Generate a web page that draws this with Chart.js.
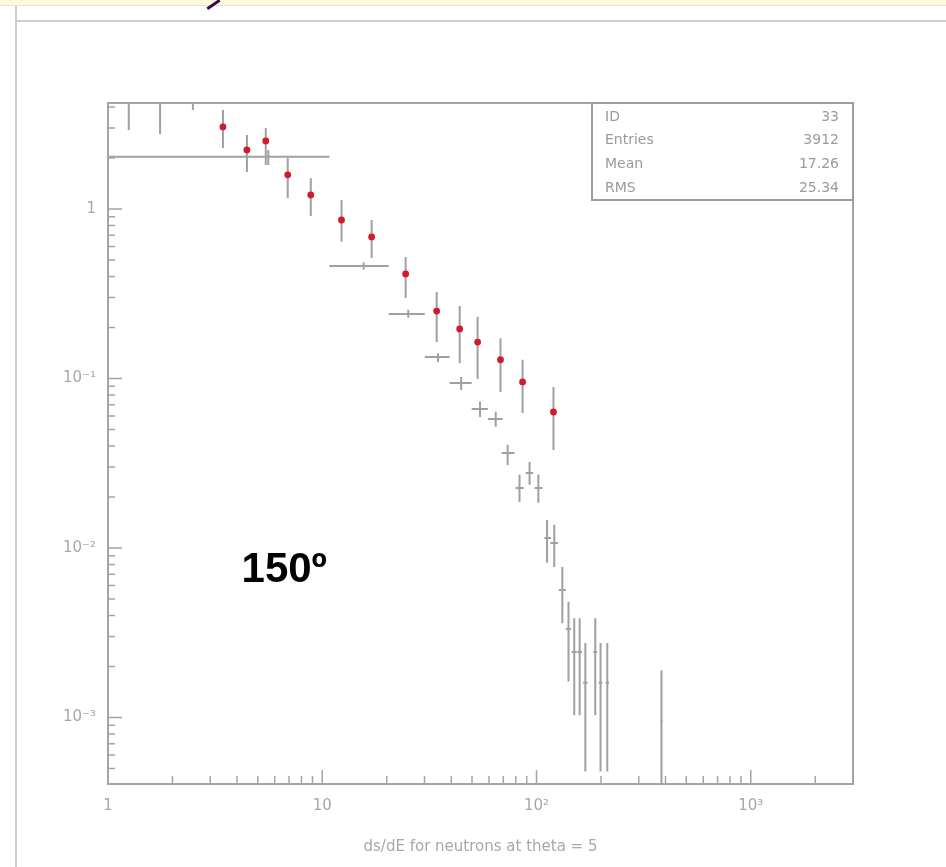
<!DOCTYPE html>
<html lang="en">

<head>
    <meta charset="UTF-8">
    <meta name="viewport" content="width=device-width, initial-scale=1.0">
    <title>ds/dE for neutrons</title>
    <style>
        body { margin: 0; background: #fff; }
        #wrap { position: relative; width: 946px; height: 867px; overflow: hidden; }
        .band { position: absolute; left: 0; top: 0; width: 946px; height: 5px; background: #fcf9dd; border-bottom: 1px solid #e4e2d4; }
        .hline { position: absolute; left: 16px; top: 20px; width: 930px; height: 2px; background: #cdcdcd; }
        .vline { position: absolute; left: 15px; top: 6px; width: 2px; height: 861px; background: #cdcdcd; }
        .stroke { position: absolute; left: 212px; top: -3px; width: 3px; height: 15px; background: #3c0d4a; transform: rotate(56deg); }
        canvas { position: absolute; left: 0; top: 0; }
    </style>
</head>

<body>
    <div id="wrap">
        <div class="band"></div>
        <div class="stroke"></div>
        <div class="hline"></div>
        <div class="vline"></div>
        <canvas id="spectrum" width="946" height="867"></canvas>
    </div>
</body>
<script src="https://cdn.jsdelivr.net/npm/chart.js"></script>
<script>

    // axis labels
    const xTickValues = [1, 10, 100, 1000];
    const xTickLabels = ['1', '10', '10²', '10³'];
    const yTickValues = [0.001, 0.01, 0.1, 1];
    const yTickLabels = ['10⁻³', '10⁻²', '10⁻¹', '1'];

    // red points: measured spectrum with vertical errors
    const redX = [1.25, 1.75, 2.49, 3.44, 4.45, 5.45, 6.9, 8.84, 12.3, 17.0, 24.5, 34.2, 43.8, 53.1, 67.9, 86.1, 120];
    const redY = [5.6, 5.3, 5.0, 3.05, 2.23, 2.52, 1.59, 1.21, 0.861, 0.684, 0.414, 0.25, 0.196, 0.164, 0.129, 0.0954, 0.0634];
    const redLo = [2.92, 2.77, 3.84, 2.29, 1.65, 1.82, 1.16, 0.91, 0.64, 0.514, 0.298, 0.164, 0.123, 0.0993, 0.0832, 0.0626, 0.0379];
    const redHi = [9.0, 8.5, 6.5, 3.84, 2.73, 3.0, 2.0, 1.52, 1.13, 0.86, 0.521, 0.324, 0.268, 0.231, 0.173, 0.129, 0.0891];

    // grey histogram: bin edges, contents and errors
    const greyXLo = [0.9, 10.8, 20.4, 30.1, 39.3, 49.8, 59.3, 68.7, 79.9, 89, 98, 108.8, 116, 127, 137, 146, 155, 165, 184, 195, 210, 378];
    const greyXHi = [10.8, 20.4, 30.1, 39.3, 49.8, 59.3, 69.5, 78.9, 87.2, 96.5, 106.5, 117, 126, 137, 145, 154, 163, 173, 192, 203, 218, 388];
    const greyX = [5.6, 15.6, 25.2, 34.7, 44.5, 54.5, 64.5, 73.3, 83.3, 92.8, 102, 112, 121, 132, 141, 150, 159, 169, 188, 199, 214, 383];
    const greyY = [2.03, 0.461, 0.240, 0.134, 0.094, 0.066, 0.0577, 0.0363, 0.0226, 0.0277, 0.0226, 0.01145, 0.0107, 0.00565, 0.00333, 0.00243, 0.00243, 0.0016, 0.00243, 0.0016, 0.0016, 0.00095];
    const greyLo = [1.82, 0.44, 0.228, 0.125, 0.0856, 0.0593, 0.0519, 0.0309, 0.0187, 0.0236, 0.0185, 0.00819, 0.00773, 0.0036, 0.00163, 0.00103, 0.00103, 0.00048, 0.00103, 0.00048, 0.00048, 0.00001];
    const greyHi = [2.23, 0.485, 0.254, 0.141, 0.102, 0.0731, 0.0636, 0.0406, 0.0271, 0.0321, 0.0271, 0.0146, 0.0137, 0.00772, 0.00481, 0.00385, 0.00385, 0.00275, 0.00385, 0.00275, 0.00275, 0.0019];

    // stats box
    const statNames = ['ID', 'Entries', 'Mean', 'RMS'];
    const statValues = ['33', '3912', '17.26', '25.34'];

    const axisGrey = '#a4a4a4';
    const textGrey = '#a8a8a8';
    const rootFont = 'DejaVu Sans';

    const errorBars = {
        id: 'errorBars',
        beforeDatasetsDraw(chart) {
            const { ctx, chartArea: a, scales: { x, y } } = chart;
            ctx.save();
            ctx.beginPath();
            ctx.rect(a.left, a.top, a.right - a.left, a.bottom - a.top);
            ctx.clip();
            ctx.strokeStyle = '#a0a0a0';
            ctx.lineWidth = 2;
            ctx.beginPath();
            greyX.forEach((v, i) => {
                const px = x.getPixelForValue(v);
                const py = y.getPixelForValue(greyY[i]);
                ctx.moveTo(x.getPixelForValue(greyXLo[i]), py);
                ctx.lineTo(x.getPixelForValue(greyXHi[i]), py);
                ctx.moveTo(px, y.getPixelForValue(greyLo[i]));
                ctx.lineTo(px, y.getPixelForValue(greyHi[i]));
            });
            redX.forEach((v, i) => {
                const px = x.getPixelForValue(v);
                ctx.moveTo(px, y.getPixelForValue(redLo[i]));
                ctx.lineTo(px, y.getPixelForValue(redHi[i]));
            });
            ctx.stroke();
            ctx.restore();
        }
    };

    // frame, inward log ticks, stats box and angle label
    const rootFrame = {
        id: 'rootFrame',
        afterDraw(chart) {
            const { ctx, chartArea: a, scales: { x, y } } = chart;
            ctx.save();
            ctx.strokeStyle = axisGrey;
            ctx.lineWidth = 2;
            ctx.strokeRect(a.left, a.top, a.right - a.left, a.bottom - a.top);

            ctx.lineWidth = 1.5;
            ctx.beginPath();
            for (let d = 0; d <= 3; d++) {
                for (let k = 1; k <= 9; k++) {
                    const v = k * Math.pow(10, d);
                    if (v < x.min || v > x.max) continue;
                    const px = x.getPixelForValue(v);
                    ctx.moveTo(px, a.bottom);
                    ctx.lineTo(px, a.bottom - (k === 1 ? 14 : 8));
                }
            }
            for (let d = -4; d <= 0; d++) {
                for (let k = 1; k <= 9; k++) {
                    const v = k * Math.pow(10, d);
                    if (v < y.min || v > y.max) continue;
                    const py = y.getPixelForValue(v);
                    ctx.moveTo(a.left, py);
                    ctx.lineTo(a.left + (k === 1 ? 14 : 7), py);
                }
            }
            ctx.stroke();

            // stats box in the top right corner
            const bw = 261, bh = 97;
            const bx = a.right - bw, by = a.top;
            ctx.fillStyle = '#fff';
            ctx.fillRect(bx, by, bw, bh);
            ctx.lineWidth = 2;
            ctx.strokeStyle = '#9c9c9c';
            ctx.strokeRect(bx, by, bw, bh);
            ctx.font = '14px "' + rootFont + '"';
            ctx.fillStyle = '#9a9a9a';
            ctx.textBaseline = 'middle';
            statNames.forEach((n, i) => {
                const ty = by + 14 + i * 23.7;
                ctx.textAlign = 'left';
                ctx.fillText(n, bx + 13, ty);
                ctx.textAlign = 'right';
                ctx.fillText(statValues[i], bx + bw - 14, ty);
            });

            // scattering angle
            ctx.font = 'bold 42px "Liberation Sans"';
            ctx.fillStyle = '#000';
            ctx.textAlign = 'left';
            ctx.textBaseline = 'alphabetic';
            ctx.fillText('150º', x.getPixelForValue(4.2), y.getPixelForValue(0.0063));
            ctx.restore();
        }
    };

    const ctx = document.getElementById('spectrum').getContext('2d');
    new Chart(ctx, {
        type: 'scatter',
        data: {
            datasets: [{
                label: 'histogram',
                data: greyX.map((v, i) => ({ x: v, y: greyY[i] })),
                pointRadius: 0,
                showLine: false
            }, {
                label: 'data',
                data: redX.map((v, i) => ({ x: v, y: redY[i] })),
                pointRadius: 3.4,
                pointBorderWidth: 0,
                pointBackgroundColor: '#d2192f',
                showLine: false
            }]
        },
        options: {
            responsive: false,
            animation: false,
            layout: { padding: { top: 103, right: 93, bottom: 0, left: 0 } },
            plugins: { legend: { display: false }, tooltip: { enabled: false } },
            scales: {
                x: {
                    type: 'logarithmic',
                    min: 1,
                    max: 3000,
                    afterBuildTicks: axis => { axis.ticks = xTickValues.map(v => ({ value: v })); },
                    afterFit: axis => { axis.height = 83; },
                    grid: { display: false, drawTicks: false },
                    border: { display: false },
                    ticks: {
                        autoSkip: false,
                        maxRotation: 0,
                        padding: 13,
                        color: textGrey,
                        font: { family: rootFont, size: 15 },
                        callback: (v, i) => xTickLabels[i]
                    },
                    title: {
                        display: true,
                        text: 'ds/dE for neutrons at theta = 5',
                        color: textGrey,
                        font: { family: rootFont, size: 15 },
                        padding: { top: 0, bottom: 11 }
                    }
                },
                y: {
                    type: 'logarithmic',
                    min: 4.05e-4,
                    max: 4.22,
                    afterBuildTicks: axis => { axis.ticks = yTickValues.map(v => ({ value: v })); },
                    afterFit: axis => { axis.width = 108; },
                    grid: { display: false, drawTicks: false },
                    border: { display: false },
                    ticks: {
                        autoSkip: false,
                        padding: 12,
                        color: textGrey,
                        font: { family: rootFont, size: 15 },
                        callback: (v, i) => yTickLabels[i]
                    }
                }
            }
        },
        plugins: [errorBars, rootFrame]
    });
</script>

</html>
